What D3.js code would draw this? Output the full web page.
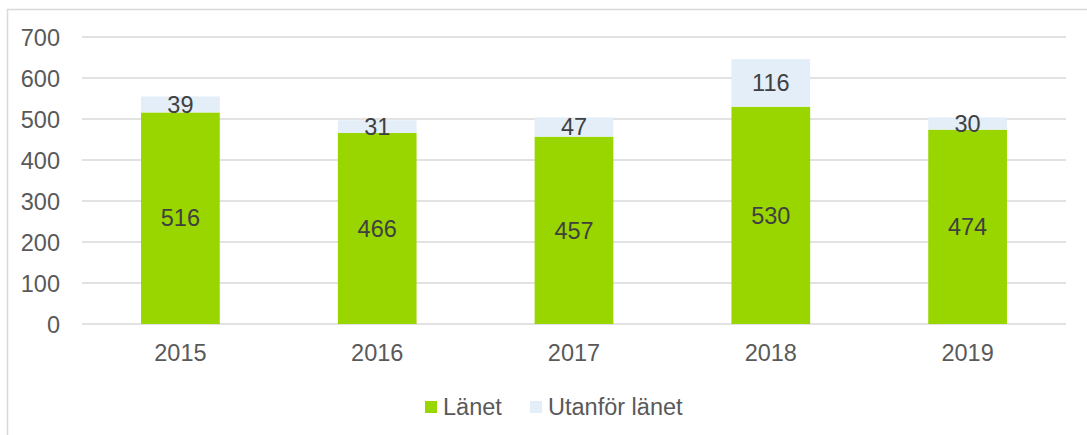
<!DOCTYPE html>
<html><head><meta charset="utf-8">
<script src="https://cdn.jsdelivr.net/npm/d3@7"></script>
<style>body{margin:0;background:#fff;}svg{display:block;font-family:"Liberation Sans",Arial,sans-serif;}</style>
</head><body>
<svg id="c" width="1087" height="435"></svg>
<script>
const years = ["2015","2016","2017","2018","2019"];
const lanet = [516,466,457,530,474];
const utanfor = [39,31,47,116,30];
const yTicks = [0,100,200,300,400,500,600,700];
const seriesNames = ["Länet","Utanför länet"];
const colors = ["#99D600","#E3EEF8"];

const svg = d3.select("#c");
// outer chart border
svg.append("rect").attr("x",7.5).attr("y",9.5).attr("width",1100).attr("height",440)
  .attr("fill","none").attr("stroke","#D9D9D9").attr("stroke-width",1.5);

const x = d3.scaleBand().domain(years).range([82,1066]).paddingInner(0.6).paddingOuter(0.3);
const y = d3.scaleLinear().domain([0,700]).range([324,37]);

// gridlines
svg.append("g").selectAll("line").data(yTicks).join("line")
  .attr("x1",82).attr("x2",1066).attr("y1",d=>y(d)).attr("y2",d=>y(d))
  .attr("stroke","#D9D9D9").attr("stroke-width",1.5);

// y axis labels
const yAxis = d3.axisLeft(y).tickValues(yTicks).tickSize(0).tickPadding(0);
const ya = svg.append("g").attr("transform","translate(60,0)").call(yAxis);
ya.select(".domain").remove();
ya.selectAll("text").attr("font-size",23.5).attr("fill","#595959").attr("font-family","Liberation Sans, Arial, sans-serif").attr("dy","0.35em");

// x axis labels
const xAxis = d3.axisBottom(x).tickSize(0).tickPadding(0);
const xa = svg.append("g").attr("transform","translate(0,344)").call(xAxis);
xa.select(".domain").remove();
xa.selectAll("text").attr("font-size",23.5).attr("fill","#595959").attr("font-family","Liberation Sans, Arial, sans-serif").attr("dy","0.71em");

const data = years.map((yr,i)=>({yr, a:lanet[i], b:utanfor[i]}));
// Länet bars
svg.append("g").selectAll("rect").data(data).join("rect")
  .attr("x",d=>x(d.yr)).attr("width",x.bandwidth())
  .attr("y",d=>y(d.a)).attr("height",d=>y(0)-y(d.a)).attr("fill",colors[0]);
// Utanför bars
svg.append("g").selectAll("rect").data(data).join("rect")
  .attr("x",d=>x(d.yr)).attr("width",x.bandwidth())
  .attr("y",d=>y(d.a+d.b)).attr("height",d=>y(d.a)-y(d.a+d.b)).attr("fill",colors[1]);

// labels
const lbl = svg.append("g").attr("font-size",23.5).attr("fill","#404040").attr("text-anchor","middle");
lbl.selectAll("text.a").data(data).join("text").attr("class","a")
  .attr("x",d=>x(d.yr)+x.bandwidth()/2).attr("y",d=>(y(0)+y(d.a))/2).attr("dy","0.35em").text(d=>d.a);
lbl.selectAll("text.b").data(data).join("text").attr("class","b")
  .attr("x",d=>x(d.yr)+x.bandwidth()/2).attr("y",d=>(y(d.a)+y(d.a+d.b))/2).attr("dy","0.35em").text(d=>d.b);

// legend
const leg = svg.append("g");
const legX = [425,530];
seriesNames.forEach((n,i)=>{
  leg.append("rect").attr("x",legX[i]).attr("y",401).attr("width",12).attr("height",12).attr("fill",colors[i]);
  leg.append("text").attr("x",legX[i]+18).attr("y",407).attr("dy","0.35em")
    .attr("font-size",23.5).attr("fill","#595959").text(n);
});
</script>
</body></html>
